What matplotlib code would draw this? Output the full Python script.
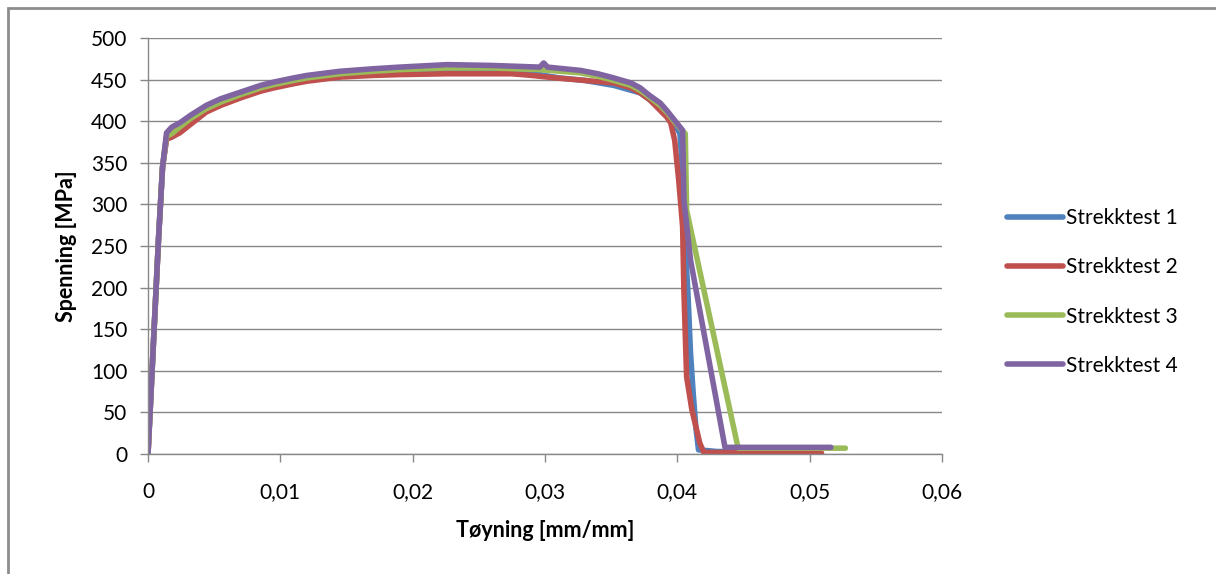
import matplotlib.pyplot as plt
from matplotlib.patches import Rectangle
from matplotlib.ticker import FuncFormatter

# strain [mm/mm] and stress [MPa]
strain_1 = [0, 0.0004, 0.0008, 0.0011, 0.0014, 0.0018, 0.0024, 0.0032, 0.0044, 0.0055,
            0.007, 0.0085, 0.0095, 0.011, 0.012, 0.0145, 0.017, 0.019, 0.0226, 0.026,
            0.028, 0.0311, 0.033, 0.0352, 0.0372, 0.0379, 0.0387, 0.0392, 0.0398, 0.0402,
            0.0404, 0.0406, 0.0408, 0.041, 0.0412, 0.0414, 0.0416, 0.043, 0.045]
stress_1 = [0, 130, 260, 345, 380, 381, 388, 398, 413, 421,
            430, 438, 442, 447, 450, 455, 457, 459, 461, 461,
            460, 452, 449, 443, 434, 426, 415, 408, 396, 385,
            340, 250, 194, 120, 73, 32, 5, 3, 3]

strain_2 = [0, 0.0004, 0.0008, 0.0011, 0.0014, 0.0018, 0.0024, 0.0032, 0.0044, 0.0055,
            0.007, 0.0085, 0.0095, 0.011, 0.012, 0.0145, 0.017, 0.019, 0.0226, 0.0275,
            0.029, 0.0308, 0.033, 0.0352, 0.0365, 0.0372, 0.0379, 0.0387, 0.0392, 0.0395,
            0.0398, 0.0401, 0.0404, 0.0405, 0.0407, 0.0411, 0.0417, 0.042, 0.0509]
stress_2 = [0, 130, 260, 345, 378, 381, 386, 396, 411, 419,
            428, 436, 440, 445, 448, 453, 455, 456, 457, 457,
            455, 452, 449, 446, 440, 434, 426, 413, 405, 398,
            377, 330, 273, 194, 93, 53, 13, 2, 1]

strain_3 = [0, 0.0004, 0.0008, 0.0011, 0.0014, 0.0018, 0.0024, 0.0032, 0.0044, 0.0055,
            0.007, 0.0085, 0.0095, 0.011, 0.012, 0.0145, 0.017, 0.019, 0.0226, 0.026,
            0.0296, 0.0327, 0.034, 0.0352, 0.0365, 0.0372, 0.0379, 0.0387, 0.0392, 0.0398,
            0.0403, 0.0406, 0.0407, 0.0445, 0.0446, 0.0527]
stress_3 = [0, 130, 260, 345, 382, 385, 393, 403, 415, 423,
            432, 440, 444, 449, 452, 457, 460, 462, 464, 464,
            462, 458, 454, 449, 443, 437, 429, 419, 411, 399,
            390, 385, 293, 14, 7, 7]

strain_4 = [0, 0.0004, 0.0008, 0.0011, 0.0014, 0.0018, 0.0024, 0.0032, 0.0044, 0.0055,
            0.007, 0.0085, 0.0095, 0.011, 0.012, 0.0145, 0.017, 0.019, 0.0226, 0.026,
            0.0296, 0.0299, 0.0302, 0.0327, 0.034, 0.0352, 0.0365, 0.0372, 0.0379, 0.0387,
            0.0392, 0.0398, 0.0404, 0.0405, 0.041, 0.0436, 0.0516]
stress_4 = [0, 130, 260, 345, 386, 393, 398, 407, 419, 427,
            435, 443, 447, 452, 455, 460, 463, 465, 468, 467,
            465, 470, 465, 461, 457, 452, 446, 440, 431, 422,
            413, 401, 389, 305, 233, 8, 8]

labels = ['Strekktest 1', 'Strekktest 2', 'Strekktest 3', 'Strekktest 4']
colors = ['#4F81BD', '#C0504D', '#9BBB59', '#8064A2']

plt.rcParams['font.family'] = ['Lato', 'DejaVu Sans']

fig = plt.figure(figsize=(12.16, 5.74), dpi=100)
ax = fig.add_axes([148 / 1216, 1 - 454 / 574, 794 / 1216, 416 / 574])

series = [(strain_1, stress_1), (strain_2, stress_2), (strain_3, stress_3), (strain_4, stress_4)]
for (sx, sy), lab, c in zip(series, labels, colors):
    ax.plot(sx, sy, color=c, lw=4.0, label=lab, solid_joinstyle='round', solid_capstyle='round')

ax.set_xlim(0, 0.06)
ax.set_ylim(0, 500)
ax.set_xticks([0, 0.01, 0.02, 0.03, 0.04, 0.05, 0.06])
ax.set_yticks(range(0, 501, 50))
ax.xaxis.set_major_formatter(FuncFormatter(lambda v, p: '0' if v == 0 else f'{v:.2f}'.replace('.', ',')))

grid_c = '#888888'
ax.yaxis.grid(True, color=grid_c, lw=1.0)
ax.set_axisbelow(True)
for s in ['top', 'right']:
    ax.spines[s].set_visible(False)
for s in ['left', 'bottom']:
    ax.spines[s].set_color(grid_c)
    ax.spines[s].set_linewidth(1.0)
ax.tick_params(axis='both', colors=grid_c, labelcolor='#000000', labelsize=15, length=6, width=1.0)
ax.tick_params(axis='y', pad=9)
ax.tick_params(axis='x', pad=14)

ax.set_xlabel('Tøyning [mm/mm]', fontsize=15.5, fontweight='bold', labelpad=13)
ax.set_ylabel('Spenning [MPa]', fontsize=15.5, fontweight='bold', labelpad=10)

fig.legend(loc='center left', bbox_to_anchor=(988 / 1216, 1 - 292 / 574), frameon=False,
           fontsize=15, handlelength=2.7, handletextpad=0.15, labelspacing=1.4)

fig.patches.append(Rectangle((8 / 1216, -0.1), 1.2, 1 - 8 / 574 + 0.1, transform=fig.transFigure,
                             fill=False, edgecolor='#8c8c8c', lw=2))

fig.savefig('out.png', dpi=100)
